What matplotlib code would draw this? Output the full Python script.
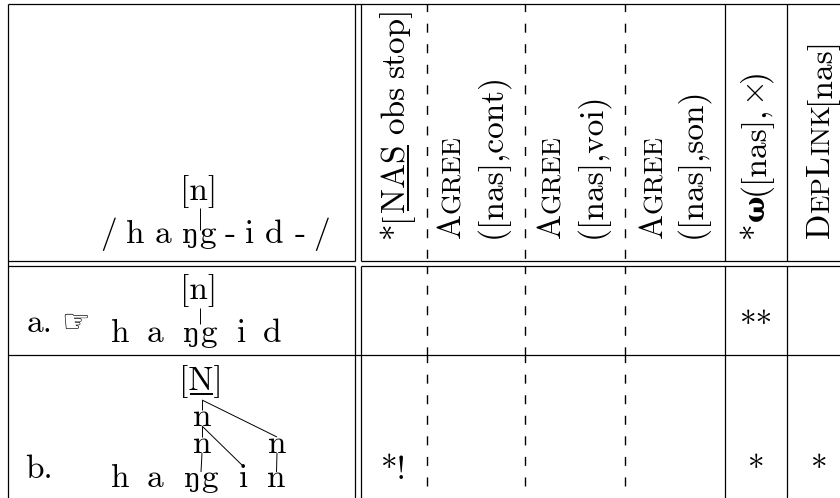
import matplotlib
matplotlib.use('Agg')
import matplotlib.pyplot as plt

plt.rcParams['mathtext.fontset'] = 'cm'
plt.rcParams['lines.scale_dashes'] = False

RM = ['cmr10', 'DejaVu Serif']
SIZE = 24          # main text size (pt)
SC = 19.5          # small caps size
LW = 0.9

# ---- tableau content ----
input_segments = ['/', 'h', 'a', 'ŋg', '-', 'i', 'd', '-', '/']
input_feature = '[n]'
candidate_labels = ['a.', 'b.']
winner = 0
cand_a_segments = ['h', 'a', 'ŋg', 'i', 'd']
cand_a_feature = '[n]'
cand_b_segments = ['h', 'a', 'ŋg', 'i', 'n']
cand_b_nodes = ['[N]', 'n', 'n', 'n']
# links in candidate b: (upper node, lower node/segment)
cand_b_links = [('N', 'n1'), ('N', 'n3'), ('n1', 'n2'), ('n1', 's3'),
                ('n2', 's2'), ('n3', 's4')]

# header lines: list of (text, style) tokens
constraints = [
    [[('*', 'rm'), ('[', 'rm'), ('NAS', 'ul'), ('', 'sp'), ('obs', 'rm'), ('', 'sp'), ('stop]', 'rm')]],
    [[('A', 'rm'), ('GREE', 'sc')], [('([nas],cont)', 'rm')]],
    [[('A', 'rm'), ('GREE', 'sc')], [('([nas],voi)', 'rm')]],
    [[('A', 'rm'), ('GREE', 'sc')], [('([nas],son)', 'rm')]],
    [[('*', 'rm'), ('ω', 'bf'), ('([nas],', 'rm'), (r'$\times$', 'math'), (')', 'rm')]],
    [[('D', 'rm'), ('EP', 'sc'), ('L', 'rm'), ('INK', 'sc'), ('[nas]', 'rm')]],
]
violations = [
    ['', '', '', '', '**', ''],
    ['*!', '', '', '', '*', '*'],
]

# ---- layout (pixels) ----
fig = plt.figure(figsize=(8.4, 4.98), dpi=100)
ax = fig.add_axes([0, 0, 1, 1])
ax.set_xlim(0, 840)
ax.set_ylim(498, 0)
ax.axis('off')
renderer = fig.canvas.get_renderer()

col_x = [361, 427, 525, 625, 725, 787, 852]
col_style = ['double', 'dashed', 'dashed', 'dashed', 'solid', 'solid', 'solid']
head_base = [[404], [460, 500], [560, 600], [662, 700], [764], [829]]


def seg(x0, y0, x1, y1, lw=LW, **kw):
    ax.plot([x0, x1], [y0, y1], color='black', lw=lw, solid_capstyle='butt',
            dash_capstyle='butt', **kw)


def width(s, size, family, weight='normal'):
    t = ax.text(0, 0, s, fontsize=size, family=family, weight=weight)
    w = t.get_window_extent(renderer).width
    t.remove()
    return w


def segment_text(x, y, s):
    # 'ŋ' comes from DejaVu Serif, drawn a little smaller to sit with cmr10
    if s == 'ŋg':
        w1 = width('ŋ', 19, ['DejaVu Serif'])
        w2 = width('g', SIZE, RM)
        x0 = x - (w1 + w2) / 2
        ax.text(x0, y, 'ŋ', ha='left', va='baseline', fontsize=19, family=['DejaVu Serif'])
        ax.text(x0 + w1, y, 'g', ha='left', va='baseline', fontsize=SIZE, family=RM)
    else:
        ax.text(x, y, s, ha='center', va='baseline', fontsize=SIZE, family=RM)


# grid
seg(8, 4, 850, 4)
seg(8, 261, 355, 261)
seg(361, 261, 850, 261)
seg(8, 266, 355, 266)
seg(361, 266, 850, 266)
seg(8, 355, 850, 355)
seg(8, 4, 8, 505)
seg(355, 4, 355, 261)
seg(355, 266, 355, 505)
for x, st in zip(col_x, col_style):
    for ya, yb in [(4, 261), (266, 355), (355, 505)]:
        if st == 'dashed':
            seg(x, ya, x, yb, lw=1.0, linestyle=(1.0, (6.5, 8.3)))
        else:
            seg(x, ya, x, yb)

# rotated constraint headers
space = width('n', SIZE, RM) * 0.5
for lines, bases in zip(constraints, head_base):
    for tokens, bx in zip(lines, bases):
        y = 238
        for s, st in tokens:
            if st == 'sp':
                y -= space
                continue
            fam, size, wt = RM, SIZE, 'normal'
            if st == 'sc':
                size = SC
            elif st == 'bf':
                fam, size, wt = ['DejaVu Serif'], 20, 'bold'
            elif st == 'math':
                fam = ['DejaVu Sans']
            ax.text(bx, y, s, rotation=90, rotation_mode='anchor', ha='left',
                    va='baseline', fontsize=size, family=fam, weight=wt)
            w = width(s, size, fam, wt)
            if st == 'ul':
                seg(bx + 4, y - 1, bx + 4, y - w + 1, lw=1.4)
            y -= w

# input form
in_x = [108, 135.5, 162.5, 199, 230, 250, 274, 300, 321.5]
for s, x in zip(input_segments, in_x):
    segment_text(x, 243, s)
ax.text(199, 200, input_feature, ha='center', va='baseline', fontsize=SIZE, family=RM)
seg(200, 208, 200, 230, lw=0.7)

# candidate a
ax.text(27, 332, candidate_labels[0], ha='left', va='baseline', fontsize=SIZE, family=RM)
ax.text(76, 323, '☞', ha='center', va='center', fontsize=23, family=['DejaVu Sans'])
ca_x = [120, 155.5, 200, 241.5, 272.5]
for s, x in zip(cand_a_segments, ca_x):
    segment_text(x, 342, s)
ax.text(199, 299, cand_a_feature, ha='center', va='baseline', fontsize=SIZE, family=RM)
seg(200, 308, 200, 324, lw=0.7)

# candidate b
ax.text(25, 478, candidate_labels[1], ha='left', va='baseline', fontsize=SIZE, family=RM)
cb_x = [120, 155.5, 201, 244, 276.5]
nodes = {}
for i, (s, x) in enumerate(zip(cand_b_segments, cb_x)):
    segment_text(x, 487, s)
    nodes['s%d' % i] = (x, 487 - (20 if s == 'i' else 15), 487)
node_pos = [(201, 390), (202, 426), (202, 453), (277, 453)]
for name, s, (x, yb) in zip(['N', 'n1', 'n2', 'n3'], cand_b_nodes, node_pos):
    ax.text(x, yb, s, ha='center', va='baseline', fontsize=SIZE, family=RM)
    if s.startswith('['):
        nodes[name] = (x + 1, yb - 22, yb + 10)
    else:
        nodes[name] = (x, yb - 16, yb)
seg(190, 394, 213, 394, lw=1.4)
for a, b in cand_b_links:
    xa, _, ya = nodes[a]
    xb, yb, _ = nodes[b]
    seg(xa, ya, xb, yb, lw=0.7)

# violation marks
mark_base = [335, 479]
for r, row in enumerate(violations):
    for c, m in enumerate(row):
        if m:
            xc = (col_x[c] + col_x[c + 1]) / 2
            ax.text(xc, mark_base[r], m, ha='center', va='baseline', fontsize=SIZE, family=RM)

fig.savefig('out.png', dpi=100)
